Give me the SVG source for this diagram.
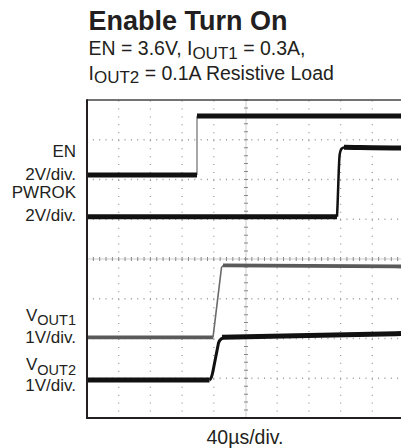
<svg xmlns="http://www.w3.org/2000/svg" width="401" height="448" viewBox="0 0 401 448">
<style>
text{font-family:"Liberation Sans",Arial,sans-serif;fill:#231f20}
.title{font-size:27px;font-weight:bold}
.sub{font-size:19.5px}
.lab{font-size:17px;text-anchor:end}
.gh{stroke:#9a9a9a;stroke-width:1.3;stroke-dasharray:1 5.34;fill:none}
.gv{stroke:#9a9a9a;stroke-width:1.3;stroke-dasharray:1 6.95;fill:none}
.tr{fill:none;stroke:#111;stroke-width:5;stroke-linejoin:round}
.trg{fill:none;stroke:#5a5a5a;stroke-width:3.8;stroke-linejoin:round}
</style>
<rect width="401" height="448" fill="#fff"/>
<g id="header">
<text class="title" x="88.5" y="30">Enable Turn On</text>
<text class="sub" x="88.5" y="55">EN = 3.6V, I<tspan font-size="17" dy="3.5">OUT1</tspan><tspan dy="-3.5"> = 0.3A,</tspan></text>
<text class="sub" x="88.5" y="79.5">I<tspan font-size="17" dy="3.5">OUT2</tspan><tspan dy="-3.5"> = 0.1A Resistive Load</tspan></text>
</g>
<g id="grid">
<g class="gv">
<line x1="118.7" y1="100.5" x2="118.7" y2="418"/>
<line x1="150.4" y1="100.5" x2="150.4" y2="418"/>
<line x1="182.1" y1="100.5" x2="182.1" y2="418"/>
<line x1="213.8" y1="100.5" x2="213.8" y2="418"/>
<line x1="277.2" y1="100.5" x2="277.2" y2="418"/>
<line x1="308.9" y1="100.5" x2="308.9" y2="418"/>
<line x1="340.6" y1="100.5" x2="340.6" y2="418"/>
<line x1="372.3" y1="100.5" x2="372.3" y2="418"/>
</g>
<g class="gh">
<line x1="86.5" y1="139.75" x2="401" y2="139.75"/>
<line x1="86.5" y1="179.5" x2="401" y2="179.5"/>
<line x1="86.5" y1="219.25" x2="401" y2="219.25"/>
<line x1="86.5" y1="298.75" x2="401" y2="298.75"/>
<line x1="86.5" y1="338.5" x2="401" y2="338.5"/>
<line x1="86.5" y1="378.25" x2="401" y2="378.25"/>
</g>
<g id="axes">
<line x1="246" y1="100" x2="246" y2="418" stroke="#c0c0c0" stroke-width="0.8"/>
<line x1="87" y1="259" x2="401" y2="259" stroke="#c0c0c0" stroke-width="0.8"/>
<line x1="246" y1="99.5" x2="246" y2="418" stroke="#888" stroke-width="4" stroke-dasharray="1 6.95"/>
<line x1="86.5" y1="259" x2="401" y2="259" stroke="#888" stroke-width="4" stroke-dasharray="1 5.34"/>
</g>
</g>
<g id="frame" fill="none">
<line x1="87" y1="100" x2="401" y2="100" stroke="#444" stroke-width="1.5"/>
<line x1="87" y1="99.3" x2="87" y2="418.7" stroke="#231f20" stroke-width="2"/>
<line x1="86" y1="418" x2="401" y2="418" stroke="#231f20" stroke-width="2"/>
</g>
<g id="traces">
<g id="trace-en">
<line x1="197" y1="116" x2="197" y2="175" stroke="#8a8a8a" stroke-width="1.5"/>
<line class="tr" x1="88" y1="175" x2="197" y2="175"/>
<line class="tr" x1="197" y1="116" x2="401" y2="116"/>
</g>
<g id="trace-pwrok">
<path class="tr" d="M88,216.7 H337"/>
<path d="M337,216.7 C338,200 338.5,170 339.5,156 C340.5,148 342,147.3 346,147.3" fill="none" stroke="#111" stroke-width="2.5"/>
<path class="tr" d="M344,147.3 C360,147.5 380,148 401,148"/>
</g>
<g id="trace-vout1">
<path class="trg" d="M88,337.3 H213"/>
<path d="M213,337.3 L221.5,267.5 Q222.5,265.3 225,265.3" fill="none" stroke="#6a6a6a" stroke-width="1.6"/>
<path class="trg" d="M223,265.3 C300,265.5 350,266 401,266.5"/>
</g>
<g id="trace-vout2">
<path class="tr" d="M88,380 H209.5"/>
<path d="M209.5,380 Q211.5,379 213,371 L218.5,343 Q220.5,337.3 226,337.3" fill="none" stroke="#111" stroke-width="3"/>
<path class="tr" d="M222,337.3 C300,336 350,335 401,333.5"/>
</g>
</g>
<g id="labels">
<text class="lab" x="76" y="156.5">EN</text>
<text class="lab" x="76" y="180">2V/div.</text>
<text class="lab" x="76" y="197.5">PWROK</text>
<text class="lab" x="76" y="220.5">2V/div.</text>
<text class="lab" x="76" y="320.7">V<tspan font-size="14.5" dy="4.5">OUT1</tspan></text>
<text class="lab" x="76" y="343.3">1V/div.</text>
<text class="lab" x="76" y="370">V<tspan font-size="14.5" dy="4.5">OUT2</tspan></text>
<text class="lab" x="76" y="391">1V/div.</text>
<text x="245" y="444" font-size="19.5" text-anchor="middle">40µs/div.</text>
</g>
</svg>
